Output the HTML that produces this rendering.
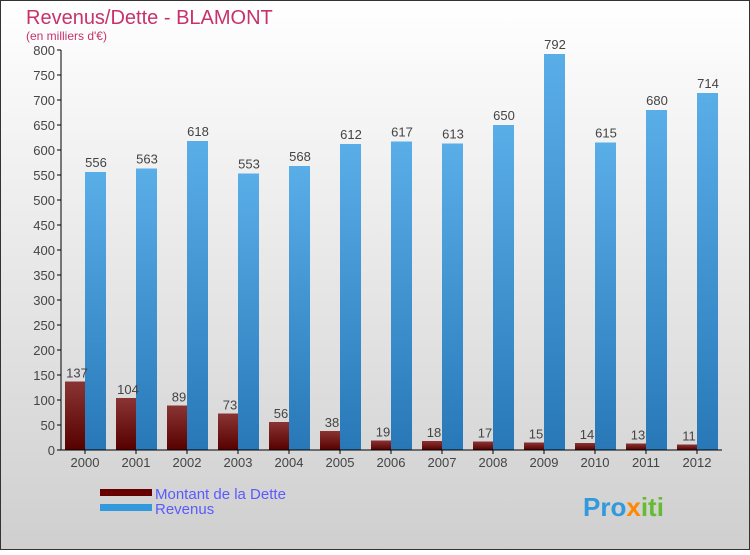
<!DOCTYPE html>
<html><head><meta charset="utf-8"><style>
body{margin:0}
#c{width:750px;height:550px;position:relative;font-family:"Liberation Sans",sans-serif}
</style></head><body>
<div id="c">
<svg id="s" width="750" height="550" xmlns="http://www.w3.org/2000/svg">
<defs>
<linearGradient id="bg" x1="0" y1="0" x2="0" y2="1"><stop offset="0" stop-color="#ffffff"/><stop offset="1" stop-color="#cfcfcf"/></linearGradient>
<linearGradient id="gd" x1="0" y1="0" x2="0" y2="1"><stop offset="0" stop-color="#8a3434"/><stop offset="1" stop-color="#560000"/></linearGradient>
<linearGradient id="gr" x1="0" y1="0" x2="0" y2="1"><stop offset="0" stop-color="#5aaee8"/><stop offset="1" stop-color="#2878b8"/></linearGradient>
</defs>
<rect x="0.5" y="0.5" width="749" height="549" fill="url(#bg)" stroke="#333"/>
<text x="26" y="24" font-size="20" fill="#c8326a">Revenus/Dette - BLAMONT</text>
<text x="26" y="40" font-size="12" fill="#c8326a">(en milliers d'€)</text>
<g id="plot"></g>
<rect x="100" y="489" width="52" height="7" fill="#660000"/>
<text x="155" y="499" font-size="15" fill="#5a5aff">Montant de la Dette</text>
<rect x="100" y="504" width="52" height="7" fill="#3399dd"/>
<text x="155" y="514" font-size="15" fill="#5a5aff">Revenus</text>
<text x="583" y="516" font-size="26" font-weight="bold" fill="#3399dd">Pro<tspan fill="#ff8800">x</tspan><tspan fill="#66bb33">iti</tspan></text>
</svg>
</div>
<script>
const years=["2000","2001","2002","2003","2004","2005","2006","2007","2008","2009","2010","2011","2012"];
const dette=[137,104,89,73,56,38,19,18,17,15,14,13,11];
const revenus=[556,563,618,553,568,612,617,613,650,792,615,680,714];
const ticks=[0,50,100,150,200,250,300,350,400,450,500,550,600,650,700,750,800];
const NS="http://www.w3.org/2000/svg";
const g=document.getElementById('plot');
const y=v=>450-v*0.5;
const x0=i=>65+i*51;
function mk(t,a,txt){const e=document.createElementNS(NS,t);for(const k in a)e.setAttribute(k,a[k]);if(txt!==undefined)e.textContent=txt;g.appendChild(e);return e;}
ticks.forEach(t=>{
 let l=mk('line',{x1:57,x2:61,y1:y(t),y2:y(t),stroke:'#000'});
 
 
 let tx=mk('text',{x:55,y:y(t)+5,'text-anchor':'end','font-size':13,fill:'#444'},t);
 
 
});
years.forEach((yr,i)=>{
 let b=mk('rect',{x:x0(i),y:y(dette[i]),width:20,height:dette[i]*0.5,fill:'url(#gd)'});
 
 
 let r=mk('rect',{x:x0(i)+20,y:y(revenus[i]),width:21,height:revenus[i]*0.5,fill:'url(#gr)'});
 
 
 let t1=mk('text',{x:x0(i)+12,y:y(dette[i])-4,'text-anchor':'middle','font-size':13,fill:'#444'},dette[i]);
 
 
 let t2=mk('text',{x:x0(i)+31,y:y(revenus[i])-5,'text-anchor':'middle','font-size':13,fill:'#444'},revenus[i]);
 
 
 let tk=mk('line',{x1:x0(i)+20,x2:x0(i)+20,y1:450,y2:454,stroke:'#000'});
 
 
 let xl=mk('text',{x:x0(i)+20,y:467,'text-anchor':'middle','font-size':13,fill:'#444'},yr);
 
 
});
let ax=mk('line',{x1:61,x2:61,y1:50,y2:450,stroke:'#000'});


let bx=mk('line',{x1:61,x2:722,y1:450,y2:450,stroke:'#000'});


</script>
</body></html>
